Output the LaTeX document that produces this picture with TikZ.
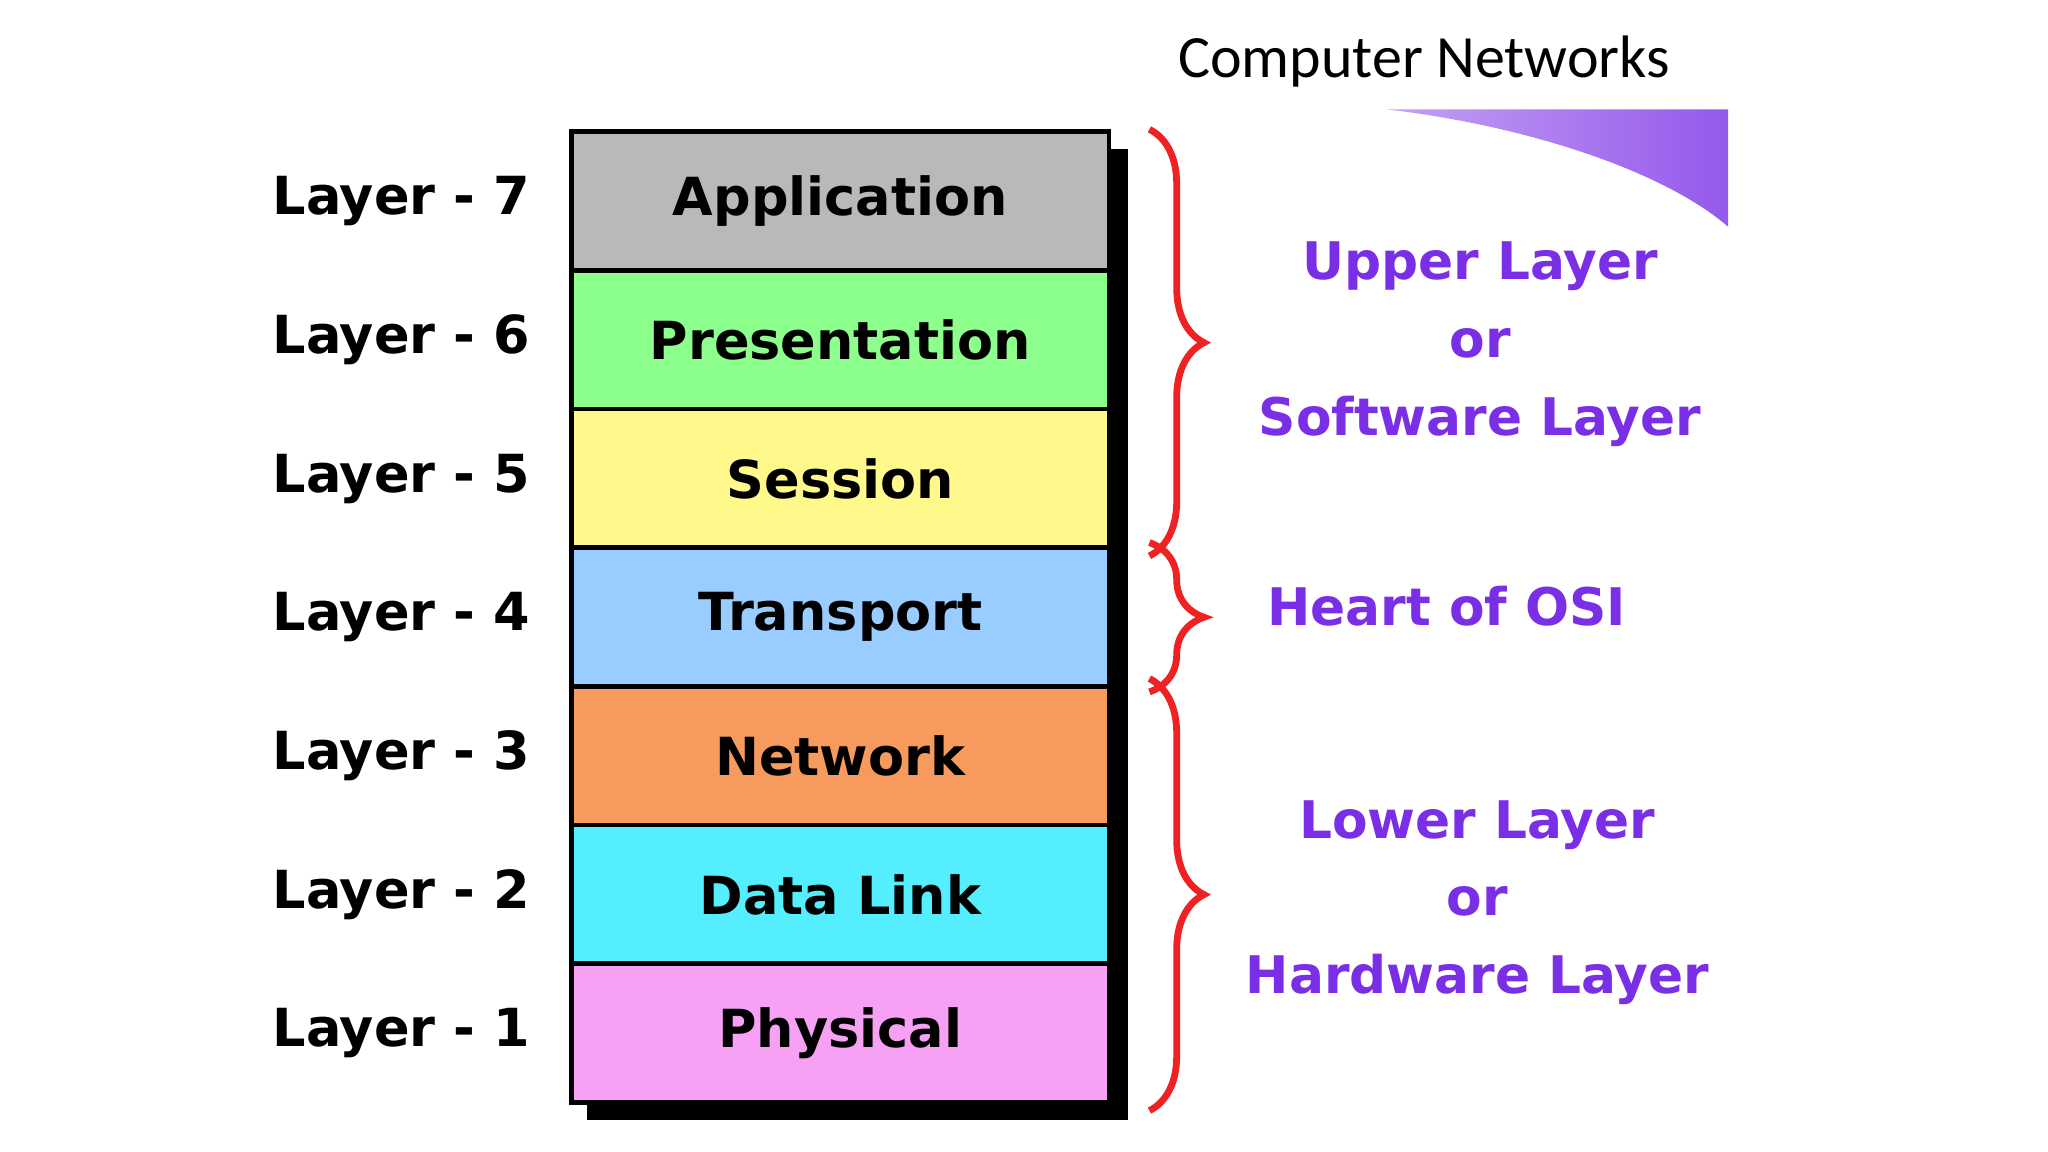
\documentclass[tikz,border=0pt]{standalone}
\usepackage{fontspec}
\setmainfont{DejaVu Sans}
\newfontfamily\titlefont{Carlito}
\usetikzlibrary{decorations.pathreplacing}
\definecolor{purp}{HTML}{7A2FE6}
\definecolor{brred}{HTML}{EE2222}
\begin{document}
\begin{tikzpicture}[x=0.978pt,y=-0.978pt,
  layer/.style={draw=black,line width=3.5pt,minimum width=394pt,minimum height=102pt,inner sep=0pt,font=\fontsize{38.5}{44}\selectfont\bfseries,anchor=north west},
  lab/.style={anchor=east,font=\fontsize{38.5}{44}\selectfont\bfseries},
  side/.style={purp,font=\fontsize{38}{44}\selectfont\bfseries,align=center},
  br/.style={brred,line width=5pt,decorate,decoration={brace,amplitude=40pt,aspect=0.5}}]
\useasboundingbox (0,0) rectangle (1536,864);
\node[font=\titlefont\fontsize{44}{50}\selectfont] (title) at (1068,46) {Computer Networks};
\shade[left color=purp!45,right color=purp!80] (1040,82) .. controls (1150,95) and (1250,130) .. (1296,170) -- (1296,82) -- cycle;
\fill[black] (440,112) rectangle (846,840);
\node[layer,fill=gray!55] (l7) at (427,97) {Application};
\node[layer,fill=green!45] (l6) at (427,201) {Presentation};
\node[layer,fill=yellow!45] (l5) at (427,305) {Session};
\node[layer,fill={rgb,255:red,153;green,204;blue,255}] (l4) at (427,409) {Transport};
\node[layer,fill={rgb,255:red,247;green,154;blue,94}] (l3) at (427,513) {Network};
\node[layer,fill={rgb,255:red,85;green,238;blue,255}] (l2) at (427,617) {Data Link};
\node[layer,fill={rgb,255:red,247;green,161;blue,245}] (l1) at (427,721) {Physical};
\foreach \i in {1,...,7}{\node[lab] (t\i) at ([xshift=-25pt]l\i.west) {Layer - \i};}
\draw[br] ([xshift=28pt]l7.north east) -- ([xshift=28pt,yshift=-4pt]l5.south east);
\draw[br] ([xshift=28pt,yshift=2pt]l4.north east) -- ([xshift=28pt,yshift=-2pt]l4.south east);
\draw[br] ([xshift=28pt,yshift=4pt]l3.north east) -- ([xshift=28pt,yshift=-4pt]l1.south east);
\node[side] (s1) at (1110,258) {Upper Layer\\[13pt]or\\[13pt]Software Layer};
\node[side] (s2) at (1085,455) {Heart of OSI};
\node[side] (s3) at (1108,677) {Lower Layer\\[13pt]or\\[13pt]Hardware Layer};
\end{tikzpicture}
\end{document}
